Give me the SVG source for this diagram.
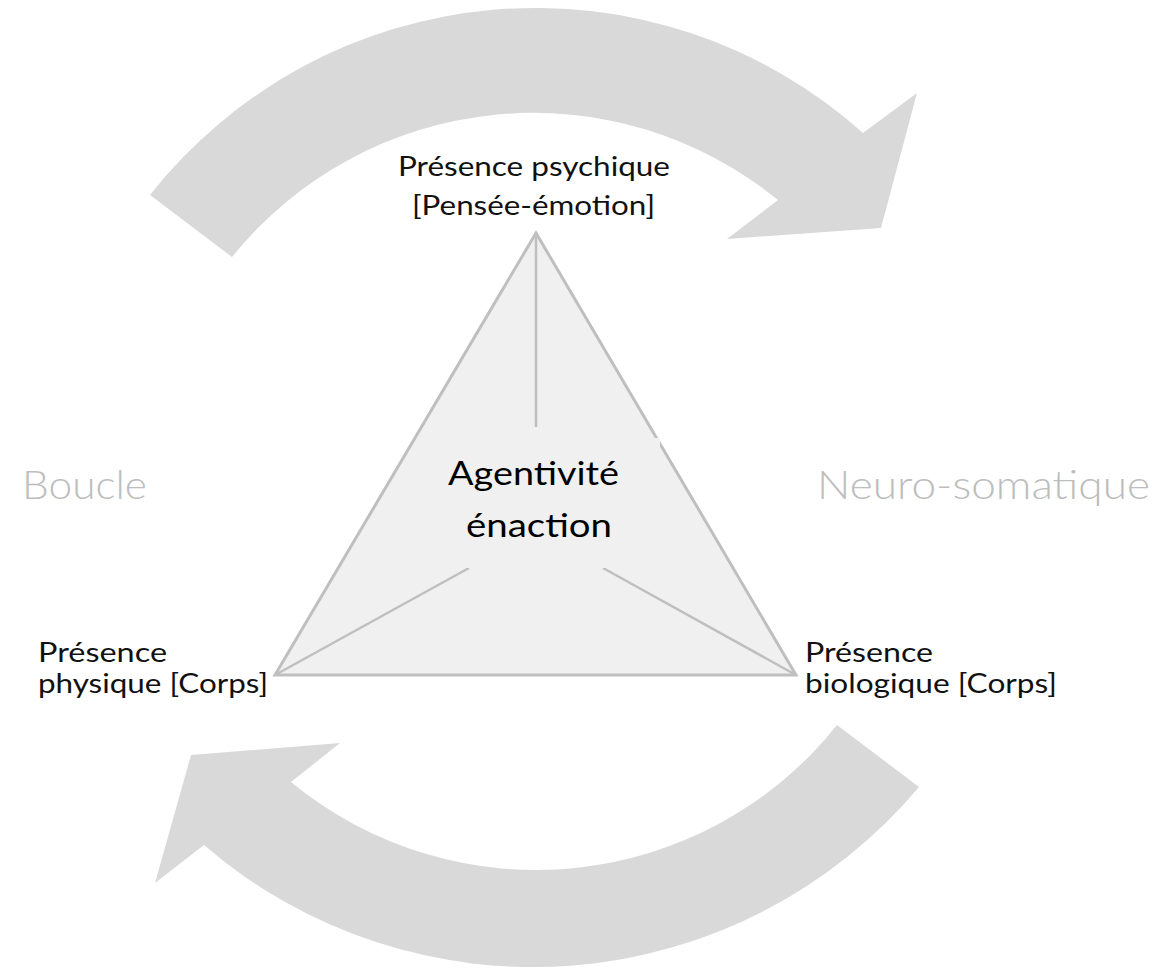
<svg xmlns="http://www.w3.org/2000/svg" width="1161" height="970" viewBox="0 0 1161 970">
  <style>
    .arrow { fill: #d9d9d9; stroke: none; }
    .tri { fill: #f0f0f0; stroke: #bfbfbf; stroke-width: 3; stroke-linejoin: miter; }
    .spoke { stroke: #bfbfbf; stroke-width: 2.5; fill: none; }
    .lbl { font-family: Lato, "Open Sans", "Liberation Sans", sans-serif; font-size: 27px; fill: #111; }
    .big { font-family: Lato, "Open Sans", "Liberation Sans", sans-serif; font-size: 40px; font-weight: 300; fill: #bdbdbd; }
    .ctr { font-family: Lato, "Open Sans", "Liberation Sans", sans-serif; font-size: 32px; font-weight: 400; fill: #000; }
  </style>
  <rect width="1161" height="970" fill="#ffffff"/>
  <g id="connectors">
    <path id="arrow-top" class="arrow" d="M 150,195 A 491 491 0 0 1 863,133 L 917,93 L 881,228 L 727,239 L 778,200 A 387 387 0 0 0 232,257 Z"/>
    <path id="arrow-bottom" class="arrow" d="M 837,725 L 919,787 A 504 504 0 0 1 204,845 L 155,883 L 191,755 L 340,743 L 291,782 A 385 385 0 0 0 837,725 Z"/>
  </g>
  <g id="triangle">
    <polygon class="tri" points="536,233 275,675 796,675"/>
    <line class="spoke" x1="536" y1="233" x2="536" y2="427"/>
    <line class="spoke" x1="275" y1="675" x2="469" y2="568"/>
    <line class="spoke" x1="796" y1="675" x2="603" y2="568"/>
    <rect x="440" y="438" width="220" height="130" fill="#f0f0f0"/>
  </g>
  <g id="node-center">
    <text class="ctr" x="448" y="485" textLength="171" lengthAdjust="spacingAndGlyphs">Agentivité</text>
    <text class="ctr" x="466" y="537" textLength="146" lengthAdjust="spacingAndGlyphs">énaction</text>
  </g>
  <g id="node-psychique">
    <text class="lbl" x="398" y="176" textLength="272" lengthAdjust="spacingAndGlyphs">Présence psychique</text>
    <text class="lbl" x="412" y="215" textLength="243" lengthAdjust="spacingAndGlyphs">[Pensée-émotion]</text>
  </g>
  <g id="node-physique">
    <text class="lbl" x="38" y="662" textLength="129" lengthAdjust="spacingAndGlyphs">Présence</text>
    <text class="lbl" x="38" y="693" textLength="230" lengthAdjust="spacingAndGlyphs">physique [Corps]</text>
  </g>
  <g id="node-biologique">
    <text class="lbl" x="805" y="662" textLength="128" lengthAdjust="spacingAndGlyphs">Présence</text>
    <text class="lbl" x="805" y="693" textLength="252" lengthAdjust="spacingAndGlyphs">biologique [Corps]</text>
  </g>
  <g id="label-boucle">
    <text class="big" x="22" y="499" textLength="125" lengthAdjust="spacingAndGlyphs">Boucle</text>
  </g>
  <g id="label-neuro">
    <text class="big" x="817" y="499" textLength="333" lengthAdjust="spacingAndGlyphs">Neuro-somatique</text>
  </g>
</svg>
